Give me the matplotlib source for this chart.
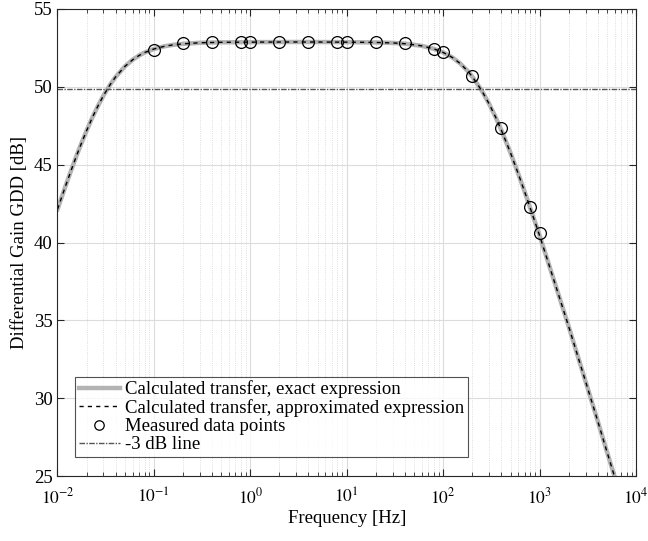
import matplotlib
matplotlib.use("Agg")
import matplotlib.pyplot as plt
from matplotlib.ticker import LogLocator, NullFormatter, FixedLocator

plt.rcParams['font.family'] = ['Liberation Serif', 'DejaVu Serif']
plt.rcParams['mathtext.fontset'] = 'stix'

# calculated transfer
freq_curve = [0.01, 0.012, 0.014, 0.016, 0.018, 0.02, 0.023, 0.026, 0.03, 0.035,
              0.04, 0.05, 0.06, 0.07, 0.08, 0.1, 0.13, 0.16, 0.2, 0.3, 0.5, 1,
              3, 10, 20, 30, 40, 50, 60, 80, 100, 125, 150, 180, 200, 250, 300,
              350, 400, 500, 600, 700, 800, 1000, 1300, 1600, 2000, 2500, 3000,
              4000, 5000, 6000, 7000]
gain_curve = [42.13, 43.55, 44.71, 45.68, 46.48, 47.17, 48.03, 48.71, 49.44, 50.12,
              50.63, 51.31, 51.73, 52.01, 52.20, 52.43, 52.61, 52.70, 52.76, 52.83, 52.86, 52.87,
              52.88, 52.87, 52.85, 52.82, 52.77, 52.70, 52.63, 52.44, 52.21, 51.88, 51.50, 51.01,
              50.66, 49.78, 48.90, 48.05, 47.24, 45.75, 44.43, 43.26, 42.21, 40.45, 38.25,
              36.50, 34.62, 32.66, 31.07, 28.55, 26.55, 24.95, 23.60]

# measured data points
freq_meas = [0.1, 0.2, 0.4, 0.8, 1, 2, 4, 8, 10, 20, 40, 80, 100, 200, 400, 800, 1000]
gain_meas = [52.37, 52.80, 52.88, 52.88, 52.88, 52.88, 52.88, 52.88, 52.88, 52.86,
             52.80, 52.43, 52.22, 50.70, 47.34, 42.30, 40.59]

minus3db = 49.88

fig = plt.figure(figsize=(6.48, 5.41), dpi=100)
ax = fig.add_axes([0.0887, 0.1201, 0.8928, 0.8633])

ax.semilogx(freq_curve, gain_curve, color='#b3b3b3', lw=3.2,
            label='Calculated transfer, exact expression')
ax.semilogx(freq_curve, gain_curve, color='black', lw=1.0, ls=(0, (3, 3)),
            label='Calculated transfer, approximated expression')
ax.semilogx(freq_meas, gain_meas, 'o', mfc='none', mec='black', ms=8.5, mew=0.9,
            label='Measured data points')
ax.axhline(minus3db, color='#555555', lw=1.0, ls=(0, (4, 1, 1, 1)),
           label='-3 dB line')

ax.set_xlim(1e-2, 1e4)
ax.set_ylim(25, 55)
ax.xaxis.set_major_locator(FixedLocator([1e-2, 1e-1, 1, 1e1, 1e2, 1e3, 1e4]))
ax.set_xticklabels(['$10^{-2}$', '$10^{-1}$', '$10^{0}$', '$10^{1}$',
                    '$10^{2}$', '$10^{3}$', '$10^{4}$'])
ax.xaxis.set_minor_locator(LogLocator(base=10, subs=range(2, 10), numticks=20))
ax.xaxis.set_minor_formatter(NullFormatter())
ax.set_yticks([25, 30, 35, 40, 45, 50, 55])

ax.grid(True, which='major', color='#dcdcdc', lw=0.8, ls='-')
ax.grid(True, which='minor', axis='x', color='#d4d4d4', lw=0.6, ls=':')
ax.set_axisbelow(True)

ax.tick_params(which='both', direction='in', top=True, right=True,
               labelsize=13.5, color='#262626')
ax.tick_params(which='major', length=5)
ax.tick_params(which='minor', length=3)
ax.tick_params(axis='x', which='major', pad=8, labelsize=12.5)
for s in ax.spines.values():
    s.set_color('#262626')
    s.set_linewidth(0.8)

ax.set_xlabel('Frequency [Hz]', fontsize=13.5, labelpad=2)
ax.set_ylabel('Differential Gain GDD [dB]', fontsize=13.5, labelpad=4)

leg = ax.legend(loc='lower left', bbox_to_anchor=(0.03, 0.041), fontsize=13.5,
                frameon=True, fancybox=False, edgecolor='#262626',
                handlelength=2.2, handletextpad=0.3, borderpad=0.2,
                labelspacing=0.05, borderaxespad=0, markerscale=0.8)
leg.get_frame().set_linewidth(0.8)

fig.savefig('out.png', dpi=100)
